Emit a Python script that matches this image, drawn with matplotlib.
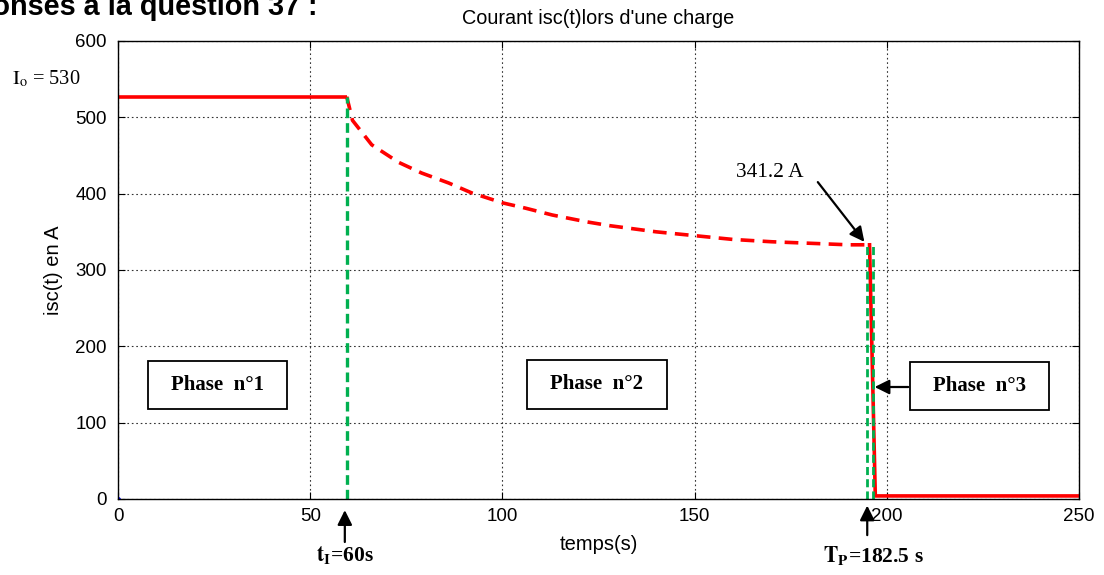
import matplotlib.pyplot as plt
from matplotlib.patches import Rectangle

plt.rcParams['mathtext.fontset'] = 'stix'

# phase 1 : courant constant
t_phase1 = [0, 59.5]
i_phase1 = [527, 527]
# phase 2 : decroissance (pointilles)
t_phase2 = [59.5, 61, 66, 73, 79, 86, 92, 100, 106, 113, 122, 128, 140, 150, 160, 170, 180, 190, 195.5]
i_phase2 = [527, 496, 464, 441, 427, 414, 401, 388, 381, 372, 363, 358, 350, 345, 340, 337, 335, 333, 333]
# phase 3 : chute puis courant residuel
t_phase3 = [195.5, 197, 250]
i_phase3 = [333, 4, 4]

t_I = 59.5
t_P = [194.8, 196.5]
i_top = [527, 333, 333]

phases = ['Phase  n°1', 'Phase  n°2', 'Phase  n°3']
phase_x = [25.8, 124.6, 224.2]
phase_y = [149, 150, 148]

fig = plt.figure(figsize=(11.04, 5.75), dpi=100)
ax = fig.add_axes([0.1069, 0.1322, 0.8705, 0.7965])

ax.plot(t_phase1, i_phase1, color='#ff0000', lw=2.6, solid_capstyle='butt')
l2, = ax.plot(t_phase2, i_phase2, color='#ff0000', lw=2.6)
l2.set_dashes([3.8, 2.3])
ax.plot(t_phase3, i_phase3, color='#ff0000', lw=2.6)

g1, = ax.plot([t_I, t_I], [0, i_top[0]], color='#00b050', lw=2.4)
g1.set_dashes([2.9, 1.5])
for x, y in zip(t_P, i_top[1:]):
    g, = ax.plot([x, x], [0, y], color='#00b050', lw=2.0)
    g.set_dashes([2.9, 1.5])
ax.plot([0], [0], marker='o', ms=2.5, color='blue')

ax.set_xlim(0, 250)
ax.set_ylim(0, 600)
ax.set_xticks([0, 50, 100, 150, 200, 250])
ax.set_yticks([0, 100, 200, 300, 400, 500, 600])
ax.tick_params(direction='in', top=True, right=True, labelsize=13.5, length=5)
ax.tick_params(axis='x', pad=6.5)
ax.tick_params(axis='y', pad=8)
for lab in ax.get_xticklabels() + ax.get_yticklabels():
    lab.set_family('Liberation Sans')
ax.grid(True, linestyle=(0, (1.5, 2.5)), color='#333333', lw=0.8)
for s in ax.spines.values():
    s.set_linewidth(1.0)

ax.set_title("Courant isc(t)lors d'une charge", family='Liberation Sans', fontsize=14.3, pad=12)
ax.set_xlabel('temps(s)', family='Liberation Sans', fontsize=14.5, labelpad=7)
ax.set_ylabel('isc(t) en A', family='Liberation Sans', fontsize=14.5, labelpad=9)

# boites des phases
for txt, x, y in zip(phases, phase_x, phase_y):
    ax.add_patch(Rectangle((x - 18.1, y - 31.5), 36.2, 63, fill=False, ec='k', lw=1.3, clip_on=False))
    ax.text(x, y, txt, ha='center', va='center', family='Liberation Serif',
            fontweight='bold', fontsize=15)

arrow = dict(arrowstyle='-|>', color='k', lw=1.6, mutation_scale=22)
ax.annotate('', xy=(196.1, 146.7), xytext=(206.3, 146.7), arrowprops=arrow)
ax.annotate('', xy=(194.6, 334), xytext=(181.6, 418), arrowprops=arrow)
ax.text(169.6, 428, '341.2 A', ha='center', va='center', family='Liberation Serif', fontsize=15.4)

ax.annotate('', xy=(59.0, -11), xytext=(59.0, -60), arrowprops=arrow, annotation_clip=False)
ax.annotate('', xy=(194.9, -5), xytext=(194.9, -51), arrowprops=arrow, annotation_clip=False)
ax.text(59.0, -75, r'$\mathbf{t_I}$=60s', ha='center', va='center', family='Liberation Serif',
        fontweight='bold', fontsize=15.5)
ax.text(196.5, -75, r'$\mathbf{T_P}$=182.5 s', ha='center', va='center', family='Liberation Serif',
        fontweight='bold', fontsize=15.5)

fig.text(12 / 1104, 1 - 84 / 575, r'$\mathrm{I_o}$ = 530', family='Liberation Serif', fontsize=14.7,
         va='baseline')
# en-tete de page, coupe a gauche comme sur l'original
fig.text(318 / 1104, 1 - 15 / 575, 'Réponses à la question 37 :', family='Liberation Sans',
         fontweight='bold', fontsize=20.8, ha='right', va='baseline')

fig.savefig('out.png', dpi=100)
